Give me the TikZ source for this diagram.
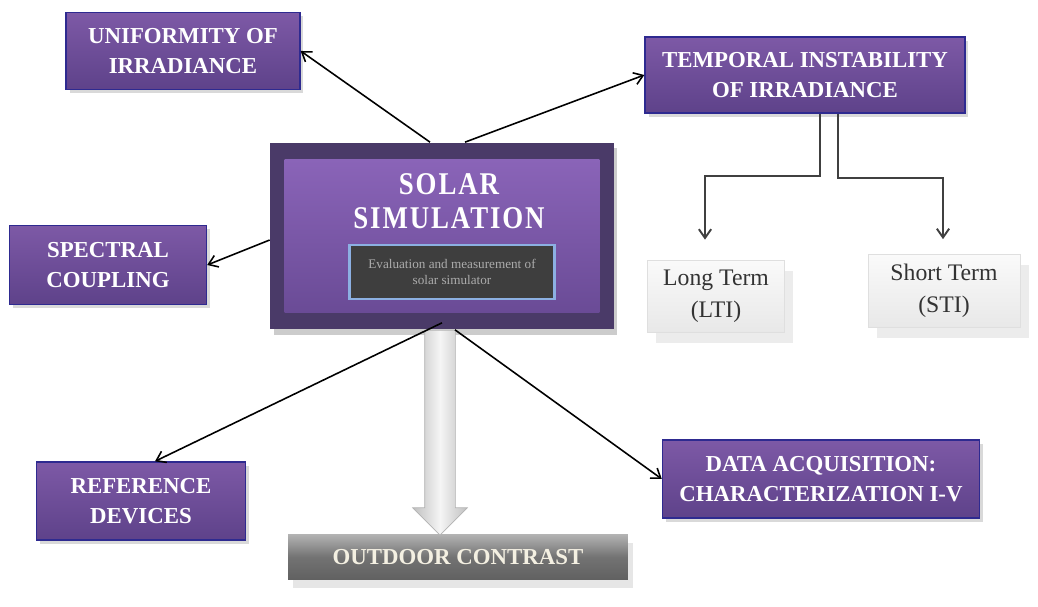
\documentclass[tikz,border=0pt]{standalone}
\usepackage{fontspec}
\setmainfont{Liberation Serif}
\newfontfamily\titlefont[LetterSpace=6,FakeStretch=0.85]{Liberation Serif}
\usetikzlibrary{positioning,shadows,shapes.arrows,arrows.meta}

\definecolor{plumtop}{HTML}{7D59A6}
\definecolor{plumbot}{HTML}{5E428A}
\definecolor{plumline}{HTML}{2E2A90}
\definecolor{plumframe}{HTML}{4A3A68}
\definecolor{plumhi}{HTML}{8A64B8}
\definecolor{plumlo}{HTML}{6A4B96}
\definecolor{slatebox}{HTML}{3E3E3E}
\definecolor{skyline}{HTML}{8CB0E2}
\definecolor{cream}{HTML}{F4F0E2}

\tikzset{
  topic/.style={draw=plumline, line width=0.8pt, top color=plumtop, bottom color=plumbot,
    text=white, font=\bfseries\fontsize{13}{17.5}\selectfont, align=center,
    drop shadow={shadow xshift=2pt, shadow yshift=-2pt, opacity=0.3}},
  term/.style={draw=gray!25, top color=gray!4, bottom color=gray!18, text=black!80,
    font=\fontsize{13.5}{18}\selectfont, align=center,
    drop shadow={shadow xshift=5pt, shadow yshift=-6pt, opacity=0.15}},
  link/.style={-{Straight Barb[length=5pt,width=7pt]}, line width=0.9pt, black},
  branch/.style={link, draw=black!75, line width=1.1pt}
}

\begin{document}
\begin{tikzpicture}[x=0.02cm, y=-0.02cm]
  \useasboundingbox (0,0) rectangle (1038,607);

  % central block
  \node (main) [fill=plumframe, minimum width=6.88cm, minimum height=3.74cm,
    drop shadow={shadow xshift=2pt, shadow yshift=-3pt, opacity=0.4}] at (442,236) {};
  \node (inner) [top color=plumhi, bottom color=plumlo, minimum width=6.3cm, minimum height=3.06cm] at (442,236) {};
  \node (title) [text=white, align=center, font=\titlefont\bfseries\fontsize{18}{19.5}\selectfont] at (449,201) {SOLAR\\SIMULATION};
  \node (sub) [fill=slatebox, draw=skyline, line width=1.5pt, text=gray!65, align=center,
    font=\fontsize{7.5}{9}\selectfont, minimum width=4.1cm, minimum height=1.08cm] at (452,272) {Evaluation and measurement of\\solar simulator};

  % topics
  \node (unif) [topic, minimum width=4.68cm, minimum height=1.54cm] at (183,51) {UNIFORMITY OF\\IRRADIANCE};
  \node (temp) [topic, minimum width=6.4cm, minimum height=1.52cm] at (805,75) {TEMPORAL INSTABILITY\\OF IRRADIANCE};
  \node (spec) [topic, minimum width=3.94cm, minimum height=1.58cm] at (108,265) {SPECTRAL\\COUPLING};
  \node (ref) [topic, minimum width=4.18cm, minimum height=1.56cm] at (141,501) {REFERENCE\\DEVICES};
  \node (data) [topic, minimum width=6.34cm, minimum height=1.56cm] at (821,479) {DATA ACQUISITION:\\CHARACTERIZATION I-V};

  % instability terms
  \node (long) [term, minimum width=2.74cm, minimum height=1.44cm] at (716,296) {Long Term\\(LTI)};
  \node (short) [term, minimum width=3.04cm, minimum height=1.46cm] at (944,291) {Short Term\\(STI)};

  % outdoor
  \node (out) [top color=black!30, bottom color=black!62, middle color=black!55, text=cream,
    font=\bfseries\fontsize{13}{15}\selectfont, minimum width=6.8cm, minimum height=0.9cm,
    drop shadow={shadow xshift=3pt, shadow yshift=-5pt, opacity=0.2}] at (458,557) {OUTDOOR CONTRAST};
  \node (down) [single arrow, shape border rotate=270, anchor=tail, inner sep=0.3cm,
    single arrow head extend=0.24cm, minimum height=4.1cm, draw=gray!60,
    left color=gray!50, right color=gray!50, middle color=gray!8] at ([xshift=-0.04cm]main.south) {};

  \draw[link] ([xshift=-0.24cm]main.north) -- (unif.east);
  \draw[link] ([xshift=0.46cm]main.north) -- (temp.west);
  \draw[link] ([yshift=-0.08cm]main.west) -- (spec.east);
  \draw[link] ([yshift=0.14cm]main.south) -- ([xshift=0.28cm]ref.north);
  \draw[link] ([xshift=0.26cm]main.south) -- (data.west);

  \draw[branch] ([xshift=0.3cm]temp.south) -- ++(0,62) -| ([xshift=-0.22cm,yshift=0.4cm]long.north);
  \draw[branch] ([xshift=0.66cm]temp.south) -- ++(0,64) -| ([xshift=-0.02cm,yshift=0.3cm]short.north);
\end{tikzpicture}
\end{document}
